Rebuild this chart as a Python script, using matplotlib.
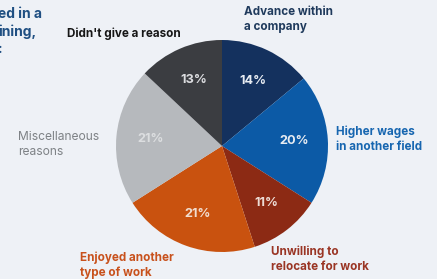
import matplotlib
matplotlib.use("Agg")
import matplotlib.pyplot as plt

categories = ["Advance within\na company", "Higher wages\nin another field",
              "Unwilling to\nrelocate for work", "Enjoyed another\ntype of work",
              "Miscellaneous\nreasons", "Didn't give a reason"]
values = [14, 20, 11, 21, 21, 13]
colors = ["#14315e", "#0c5aa6", "#8c2a14", "#c9520f", "#b6b9bd", "#3b3d41"]
label_colors = ["#1f3a5c", "#1766b0", "#9a3524", "#c8511c", "#7e8286", "#161616"]
pct_colors = ["#e8ecf2", "#e8ecf2", "#ecdcd6", "#f1ddd0", "#dcdee0", "#dcdde0"]

BG = "#eef1f6"
fig = plt.figure(figsize=(4.37, 2.79), dpi=100, facecolor=BG)
ax = fig.add_axes([0, 0, 1, 1])
ax.set_facecolor(BG)

# y axis is inverted below, so data angle -90 points up and
# counterclock=True runs clockwise on screen.
wedges, texts, autotexts = ax.pie(
    values, colors=colors, startangle=-90, counterclock=True,
    center=(222, 146), radius=106, pctdistance=0.68,
    autopct=lambda p: f"{round(p)}%", frame=True,
    textprops=dict(fontsize=9.2, fontweight="bold", family="Inter"))
for t, c in zip(autotexts, pct_colors):
    t.set_color(c)
ax.set_xlim(0, 437)
ax.set_ylim(279, 0)
ax.set_aspect("equal")
ax.axis("off")

fp = dict(fontsize=8.4, family="Inter", va="top", ha="left", linespacing=1.28)
pos = [(244, 6), (336, 126), (271, 246), (80, 251), (18, 131), (67, 28)]
for (x, y), lab, c in zip(pos, categories, label_colors):
    w = "normal" if lab.startswith("Misc") else "bold"
    fs = 8.7 if lab.startswith("Misc") else 8.4
    ax.text(x, y, lab, color=c, fontweight=w, **{**fp, "fontsize": fs})

ax.text(-2, 7, "ed in a\nining,\n:", color="#1f4f82", fontsize=10,
        fontweight="bold", family="Inter", va="top", ha="left", linespacing=1.3)

fig.savefig("out.png", dpi=100, facecolor=BG)
